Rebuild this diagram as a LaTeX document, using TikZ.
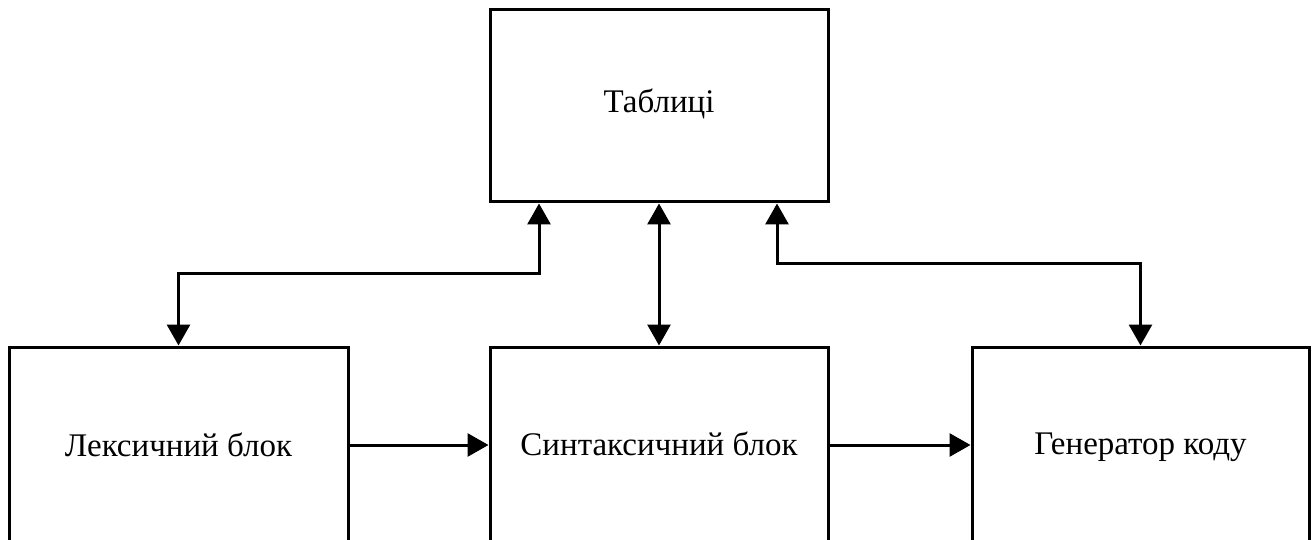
\documentclass[tikz,border=0pt]{standalone}
\usepackage{fontspec}
\setmainfont{Liberation Serif}
\usetikzlibrary{arrows.meta,calc}
\begin{document}
\begin{tikzpicture}[x=1pt,y=-1pt,
  blk/.style={draw,line width=3pt,rectangle,inner sep=0pt,text depth=0pt,font=\fontsize{33}{40}\selectfont},
  conn/.style={line width=3pt,-{Triangle[length=21pt,width=23pt]}},
  both/.style={line width=3pt,{Triangle[length=21pt,width=23pt]}-{Triangle[length=21pt,width=23pt]}}]
\useasboundingbox (0,0) rectangle (1312,540);
\node[blk,minimum width=338pt,minimum height=192pt] (tab) at (659,106) {\raisebox{10pt}{Таблиці}};
\node[blk,minimum width=339pt,minimum height=196pt] (lex) at (178.5,445) {Лексичний блок};
\node[blk,minimum width=338pt,minimum height=196pt] (syn) at (659,445) {\raisebox{2pt}{Синтаксичний блок}};
\node[blk,minimum width=337pt,minimum height=196pt] (gen) at (1140.5,445) {\raisebox{3pt}{Генератор коду}};
\draw[conn] (lex.east) -- (syn.west);
\draw[conn] (syn.east) -- (gen.west);
\draw[both] (lex.north) -- ++(0,-72) -| ($(tab.south)+(-120,0)$);
\draw[both] (syn.north) -- (tab.south);
\draw[both] (gen.north) -- ++(0,-82) -| ($(tab.south)+(118,0)$);
\end{tikzpicture}
\end{document}
